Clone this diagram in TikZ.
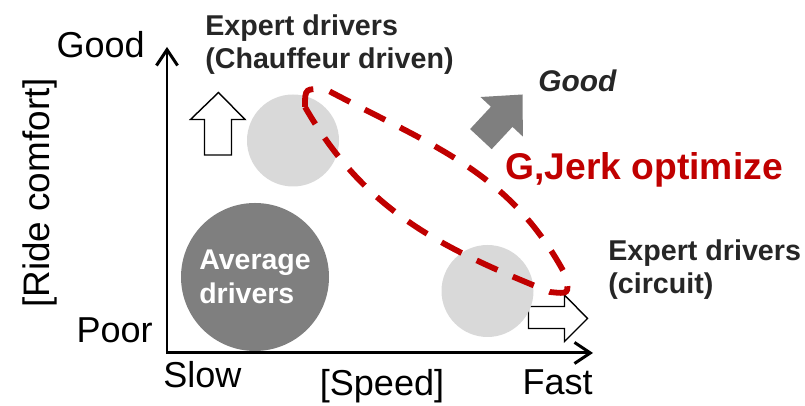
\documentclass[tikz,border=0pt]{standalone}
\usepackage{fontspec}
\setmainfont{Liberation Sans}
\usetikzlibrary{arrows.meta,positioning}
\definecolor{drvlight}{RGB}{217,217,217}
\definecolor{drvdark}{RGB}{127,127,127}
\definecolor{jerkred}{RGB}{192,0,0}
\definecolor{txtdark}{RGB}{38,38,38}

\begin{document}
\begin{tikzpicture}[
  axis/.style={{Straight Barb[length=9pt,width=12pt]}-{Straight Barb[length=9pt,width=12pt]}, line width=1.7pt},
  axlabel/.style={font=\fontsize{20.5}{24}\selectfont, inner sep=0pt},
  drvlabel/.style={font=\fontsize{16.3}{18.8}\selectfont\bfseries, text=txtdark, align=left, inner sep=0pt},
  blob/.style={circle, fill=drvlight, minimum size=1.84cm, inner sep=0pt},
  hollow/.style={draw=black, fill=white, line width=0.8pt, line join=miter},
  lens/.style={jerkred, line width=3.3pt, dash pattern=on 13pt off 9.5pt}]
\useasboundingbox (0,0) rectangle (16.1,8.12);
% Axes
\coordinate (o) at (3.34,1.06);
\coordinate (ytip) at (3.34,7.18);
\coordinate (xtip) at (11.86,1.06);
\draw[axis] (ytip) -- (o) -- (xtip);
% Axis labels
\node[axlabel, anchor=base east] (good) at (2.9,6.96) {Good};
\node[axlabel, anchor=base east] (poor) at (3.06,1.26) {Poor};
\node[axlabel, anchor=base west] (slow) at (3.26,0.36) {Slow};
\node[axlabel, anchor=base] (speed) at (7.64,0.2) {[Speed]};
\node[axlabel, anchor=base east] (fast) at (11.86,0.22) {Fast};
\node[axlabel, rotate=90, font=\fontsize{21}{24}\selectfont] (ride) at (0.8,4.26) {[Ride comfort]};
% Hollow arrows
\draw[hollow] (4.37,6.27) -- (4.9,5.73) -- (4.63,5.73) -- (4.63,5.02)
  -- (4.09,5.02) -- (4.09,5.73) -- (3.81,5.73) -- cycle;
\draw[hollow] (11.75,1.75) -- (11.29,2.22) -- (11.29,1.99) -- (10.57,1.99)
  -- (10.57,1.55) -- (11.29,1.55) -- (11.29,1.29) -- cycle;
% Drivers
\node[blob] (chauf) at (5.86,5.31) {};
\node[blob] (circ) at (9.75,2.3) {};
\node[circle, fill=drvdark, minimum size=2.96cm, inner sep=0pt, text=white,
      font=\fontsize{16.2}{19.4}\selectfont\bfseries, align=left] (avg) at (5.1,2.58) {Average\\drivers};
\node[drvlabel, anchor=north west] (chauflbl) at (4.1,7.83) {Expert drivers\\(Chauffeur driven)};
\node[drvlabel, anchor=north west] (circlbl) at (12.16,3.34) {Expert drivers\\(circuit)};
% Good direction
\begin{scope}[shift={(10.45,6.23)}, rotate=47]
\fill[drvdark] (0,0) -- (-0.61,0.58) -- (-0.61,0.295) -- (-1.22,0.295)
  -- (-1.22,-0.295) -- (-0.61,-0.295) -- (-0.61,-0.58) -- cycle;
\end{scope}
\node[inner sep=0pt, anchor=base west, font=\fontsize{17}{20}\selectfont\bfseries\itshape,
      text=txtdark] (better) at (10.76,6.28) {Good};
% Optimized region
\draw[lens] (6.1,5.98) .. controls (6.1,6.36) .. (6.54,6.32)
  to[out=-28,in=118] (11.32,2.6) .. controls (11.38,2.24) .. (11.0,2.28)
  to[out=158,in=-60] (6.1,5.98);
\node[inner sep=0pt, anchor=base west, font=\fontsize{21.2}{25}\selectfont\bfseries,
      text=jerkred] (jerk) at (10.1,4.52) {G,Jerk optimize};
\end{tikzpicture}
\end{document}
